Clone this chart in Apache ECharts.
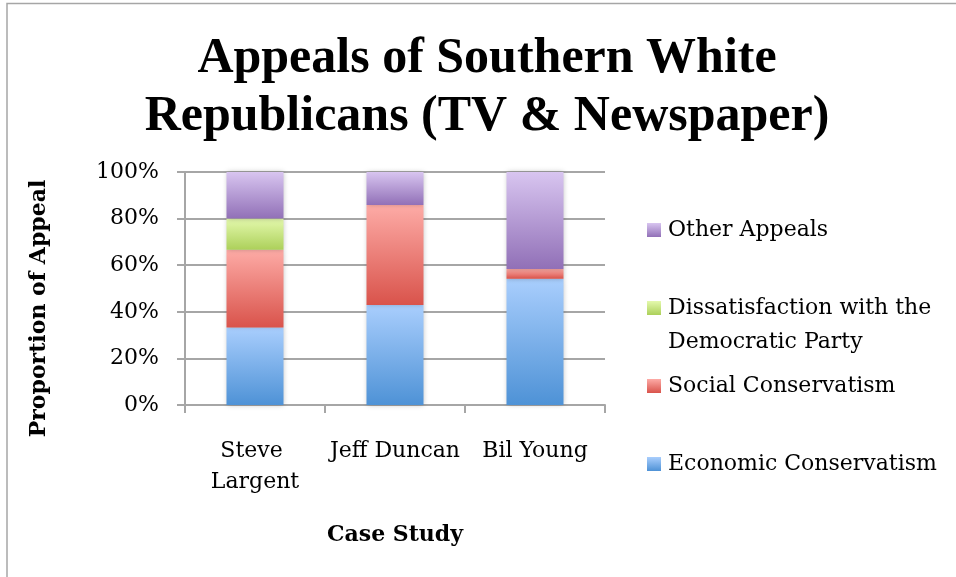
<!DOCTYPE html>
<html><head><meta charset="utf-8">
<script src="https://cdn.jsdelivr.net/npm/echarts@6/dist/echarts.min.js"></script>
<style>html,body{margin:0;padding:0;background:#fff}#c{width:956px;height:577px}</style>
</head><body><div id="c"></div>
<script>
const categories = ['Steve Largent', 'Jeff Duncan', 'Bil Young'];
const economic = [33.3, 42.9, 54.2];
const social = [33.3, 42.9, 4.2];
const dissatisfaction = [13.4, 0, 0];
const other = [20.0, 14.2, 41.6];
const yTicks = [0, 20, 40, 60, 80, 100];
const seriesNames = ['Economic Conservatism', 'Social Conservatism', 'Dissatisfaction with the Democratic Party', 'Other Appeals'];

const FONT = 'DejaVu Serif';
function grad(top, bottom) {
  return new echarts.graphic.LinearGradient(0, 0, 0, 1, [{offset: 0, color: top}, {offset: 1, color: bottom}]);
}
const colors = [
  ['#a9cefd', '#4e92d6'],
  ['#fdaba6', '#d9534b'],
  ['#e4f9ad', '#acd05a'],
  ['#d8c5f0', '#9170b7']
];
const dataSets = [economic, social, dissatisfaction, other];

const chart = echarts.init(document.getElementById('c'), null, {renderer: 'canvas'});
chart.setOption({
  animation: false,
  backgroundColor: '#fff',
  title: {
    text: 'Appeals of Southern White\nRepublicans (TV & Newspaper)',
    left: 487, top: 30, textAlign: 'center', padding: 0,
    textStyle: {fontFamily: 'Liberation Serif', fontWeight: 'bold', fontSize: 50, lineHeight: 58, color: '#000'}
  },
  graphic: [
    {type: 'rect', shape: {x: 7, y: 3.5, width: 1000, height: 700}, style: {fill: 'none', stroke: '#a6a6a6', lineWidth: 1.5}, silent: true, z: -10},
    {type: 'text', left: 668, top: 331, style: {text: 'Democratic Party', font: '22px "' + FONT + '"', fill: '#000'}}
  ],
  legend: {
    orient: 'vertical', left: 647, top: 219, padding: 0,
    itemWidth: 14, itemHeight: 14, itemGap: 56,
    icon: 'rect',
    data: [seriesNames[3], seriesNames[2], seriesNames[1], seriesNames[0]],
    formatter: n => n === seriesNames[2] ? 'Dissatisfaction with the' : n,
    textStyle: {fontFamily: FONT, fontSize: 22, color: '#000', lineHeight: 22, padding: [0, 0, 0, 2]}
  },
  grid: {left: 185, right: 351, top: 172, bottom: 172},
  xAxis: {
    type: 'category', data: categories,
    name: 'Case Study', nameLocation: 'middle', nameGap: 119,
    nameTextStyle: {fontFamily: FONT, fontWeight: 'bold', fontSize: 22, color: '#000'},
    axisLine: {lineStyle: {color: '#a6a6a6', width: 2}},
    axisTick: {show: true, length: 8, lineStyle: {color: '#a6a6a6', width: 2}, alignWithLabel: false},
    axisLabel: {fontFamily: FONT, fontSize: 22, color: '#000', margin: 31, lineHeight: 31, width: 135, overflow: 'break', interval: 0}
  },
  yAxis: {
    type: 'value', min: 0, max: 100, interval: 20,
    name: 'Proportion of Appeal', nameLocation: 'middle', nameGap: 135, nameRotate: 90,
    nameTextStyle: {fontFamily: FONT, fontWeight: 'bold', fontSize: 22, color: '#000', padding: [0, 40, 0, 0]},
    axisLine: {show: true, lineStyle: {color: '#a6a6a6', width: 2}},
    axisTick: {show: true, length: 8, lineStyle: {color: '#a6a6a6', width: 2}},
    splitLine: {lineStyle: {color: '#a6a6a6', width: 2}},
    axisLabel: {fontFamily: FONT, fontSize: 22, color: '#000', margin: 26,
      formatter: v => yTicks.includes(v) ? v + '%' : ''}
  },
  series: seriesNames.map((name, i) => ({
    name, type: 'bar', stack: 'total', barWidth: 57,
    data: dataSets[i],
    itemStyle: {color: grad(colors[i][0], colors[i][1]), shadowColor: 'rgba(0,0,0,0.25)', shadowBlur: 5, shadowOffsetX: 0},
    emphasis: {disabled: true}
  }))
});
</script></body></html>
